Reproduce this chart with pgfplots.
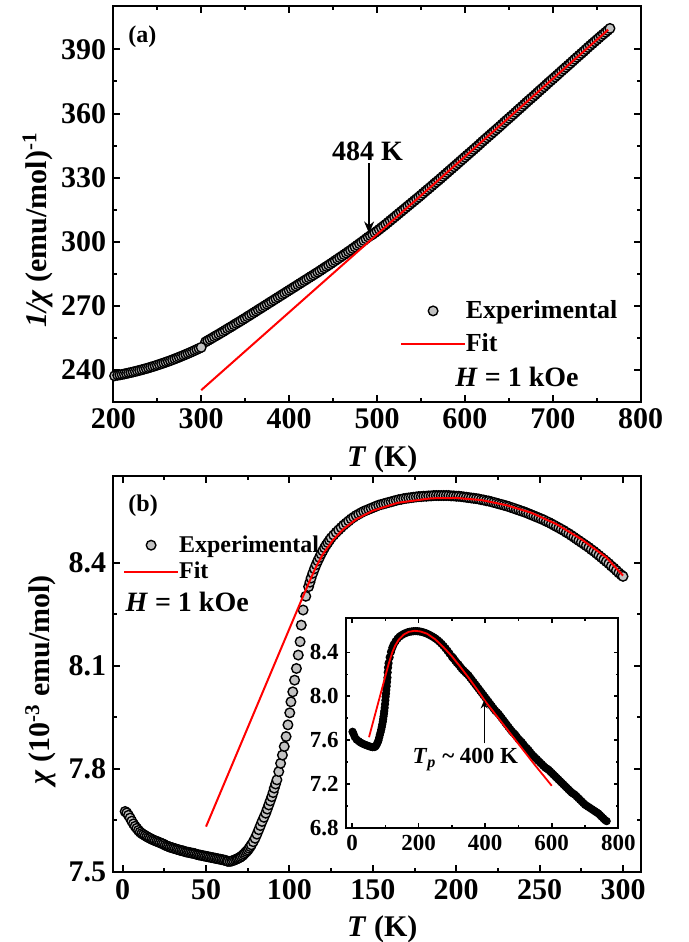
\documentclass[border=0pt]{standalone}
\usepackage{fontspec}
\setmainfont{Liberation Serif}
\usepackage{pgfplots}
\pgfplotsset{compat=1.18}
\usetikzlibrary{arrows.meta}
\definecolor{mk}{RGB}{194,194,194}

\pgfplotsset{
  panel/.style={
    scale only axis, width=263.7pt, height=197.85pt,
    clip=false, clip marker paths=true,
    axis line style={line width=1.1pt},
    every tick/.style={black, line width=1pt},
    major tick length=3.5pt, minor tick length=2pt,
    tick align=inside, minor tick num=1,
    tick label style={font=\fontsize{15}{15}\selectfont\bfseries},
    /pgf/number format/assume math mode=true,
    label style={font=\fontsize{15}{15}\selectfont\bfseries},
    xlabel style={at={(axis description cs:0.51,-0.164)}, anchor=base, inner sep=0pt},
    ylabel style={anchor=base, inner sep=0pt},
    legend cell align=left,
  },
  expt/.style={only marks, mark=*, mark size=2.4pt,
    mark options={fill=mk, draw=black, line width=0.7pt}},
  fitline/.style={red, line width=1pt, no marks},
}

\begin{document}
\begin{tikzpicture}
\useasboundingbox (0,0) rectangle (344.5pt,471pt);

% (a) inverse susceptibility
\begin{axis}[panel,
  at={(56.65pt,270.15pt)}, anchor=south west,
  xmin=200, xmax=800, ymin=225.2, ymax=410.3,
  xtick={200,300,...,800}, ytick={240,270,...,390},
  xlabel={\textit{T} (K)},
  ylabel={\textit{1/χ} (emu/mol)\textsuperscript{-1}},
  ylabel style={at={(axis description cs:-0.126,0.434)}},
  legend image code/.code={\draw[mark repeat=2,mark phase=2,#1] plot coordinates {(0pt,0pt) (15.85pt,0pt) (31.7pt,0pt)};},
  legend style={at={(axis description cs:0.5436,0.257)}, anchor=north west,
    draw=none, fill=none, inner sep=0pt, row sep=5.8pt,
    font=\fontsize{13}{13}\selectfont\bfseries, nodes={inner sep=0pt},
    /tikz/every even column/.append style={column sep=4.2pt}},
]
\addplot[expt] coordinates {
(305,253.2)(307.5,253.8)(310,254.4)(312.5,255.0)(315,255.6)(317.5,256.2)(320,256.8)(322.5,257.4)(325,258.0)(327.5,258.65)
(330,259.3)(332.5,259.9)(335,260.5)(337.5,261.15)(340,261.8)(342.5,262.4)(345,263.0)(347.5,263.65)(350,264.3)(352.5,264.95)
(355,265.6)(357.5,266.25)(360,266.9)(362.5,267.55)(365,268.2)(367.5,268.85)(370,269.5)(372.5,270.15)(375,270.8)(377.5,271.45)
(380,272.1)(382.5,272.75)(385,273.4)(387.5,274.05)(390,274.7)(392.5,275.35)(395,276.0)(397.5,276.65)(400,277.3)(402.5,277.95)
(405,278.6)(407.5,279.25)(410,279.9)(412.5,280.55)(415,281.2)(417.5,281.85)(420,282.5)(422.5,283.15)(425,283.8)(427.5,284.45)
(430,285.1)(432.5,285.75)(435,286.4)(437.5,287.1)(440,287.8)(442.5,288.45)(445,289.1)(447.5,289.8)(450,290.5)(452.5,291.2)
(455,291.9)(457.5,292.6)(460,293.3)(462.5,294.0)(465,294.7)(467.5,295.4)(470,296.1)(472.5,296.85)(475,297.6)(477.5,298.35)
(480,299.1)(482.5,299.85)(485,300.6)(487.5,301.4)(490,302.2)(492.5,302.85)(495,303.5)(497.5,304.25)(500,305.0)(502.5,305.8)
(505,306.6)(507.5,307.4)(510,308.2)(512.5,309.05)(515,309.9)(517.5,310.75)(520,311.6)(522.5,312.45)(525,313.3)(527.5,314.15)
(530,315.0)(532.5,315.85)(535,316.7)(537.5,317.55)(540,318.4)(542.5,319.25)(545,320.1)(547.5,320.95)(550,321.8)(552.5,322.7)
(555,323.6)(557.5,324.45)(560,325.3)(562.5,326.2)(565,327.1)(567.5,327.95)(570,328.8)(572.5,329.7)(575,330.6)(577.5,331.5)
(580,332.4)(582.5,333.3)(585,334.2)(587.5,335.1)(590,336.0)(592.5,336.9)(595,337.8)(597.5,338.7)(600,339.6)(602.5,340.5)
(605,341.4)(607.5,342.3)(610,343.2)(612.5,344.1)(615,345.0)(617.5,345.95)(620,346.9)(622.5,347.8)(625,348.7)(627.5,349.6)
(630,350.5)(632.5,351.4)(635,352.3)(637.5,353.2)(640,354.1)(642.5,355.05)(645,356.0)(647.5,356.9)(650,357.8)(652.5,358.7)
(655,359.6)(657.5,360.55)(660,361.5)(662.5,362.4)(665,363.3)(667.5,364.25)(670,365.2)(672.5,366.1)(675,367.0)(677.5,367.9)
(680,368.8)(682.5,369.75)(685,370.7)(687.5,371.6)(690,372.5)(692.5,373.45)(695,374.4)(697.5,375.3)(700,376.2)(702.5,377.1)
(705,378.0)(707.5,378.95)(710,379.9)(712.5,380.8)(715,381.7)(717.5,382.6)(720,383.5)(722.5,384.45)(725,385.4)(727.5,386.3)
(730,387.2)(732.5,388.1)(735,389.0)(737.5,389.95)(740,390.9)(742.5,391.8)(745,392.7)(747.5,393.6)(750,394.5)(752.5,395.4)
(755,396.3)(757.5,397.15)(760,398.0)(762.5,398.9)(765,399.8)};
\addlegendentry{Experimental}
\addplot[expt, forget plot] coordinates {
(201.5,237.3)(205,237.57)(207.5,237.76)(210,237.96)(212.5,238.17)(215,238.39)(217.5,238.62)(220,238.86)(222.5,239.1)
(225,239.35)(227.5,239.61)(230,239.88)(232.5,240.15)(235,240.43)(237.5,240.72)(240,241.02)(242.5,241.33)(245,241.65)
(247.5,241.97)(250,242.3)(252.5,242.64)(255,242.99)(257.5,243.34)(260,243.7)(262.5,244.07)(265,244.45)(267.5,244.84)
(270,245.24)(272.5,245.64)(275,246.05)(277.5,246.47)(280,246.9)(282.5,247.33)(285,247.77)(287.5,248.22)(290,248.68)
(292.5,249.15)(295,249.63)(297.5,250.11)(300,250.6)};
\addplot[fitline] coordinates {(300,230.6) (763,399.2)};
\addlegendentry{Fit}
\node[anchor=base west, inner sep=0pt, font=\fontsize{12}{12}\selectfont\bfseries]
  at (axis description cs:0.028,0.907) {(a)};
\node[anchor=base, inner sep=0pt, font=\fontsize{14}{14}\selectfont\bfseries]
  at (axis cs:489.3,338.2) {484 K};
\draw[line width=0.6pt, -{Stealth[length=6pt,width=5pt]}] (axis cs:491,336.7) -- (axis cs:491,303.9);
\node[anchor=base west, inner sep=0pt, font=\fontsize{14}{14}\selectfont\bfseries]
  at (axis description cs:0.648,0.038) {\textit{H} = 1 kOe};
\end{axis}

% (b) susceptibility
\begin{axis}[panel,
  at={(56.65pt,35pt)}, anchor=south west,
  xmin=-5.6, xmax=310.6, ymin=7.5, ymax=8.651,
  xtick={0,50,...,300}, ytick={7.5,7.8,8.1,8.4},
  yticklabel style={/pgf/number format/.cd, fixed, fixed zerofill, precision=1},
  xlabel={\textit{T} (K)},
  ylabel={\textit{χ} (10\textsuperscript{-3} emu/mol)},
  ylabel style={at={(axis description cs:-0.121,0.485)}},
  legend image code/.code={\draw[mark repeat=2,mark phase=2,#1] plot coordinates {(0pt,0pt) (13.5pt,0pt) (27pt,0pt)};},
  legend style={at={(axis description cs:0.0178,0.8517)}, anchor=north west,
    draw=none, fill=none, inner sep=0pt, row sep=3.4pt,
    font=\fontsize{12}{12}\selectfont\bfseries, nodes={inner sep=0pt},
    /tikz/every even column/.append style={column sep=3pt}},
]
\addplot[expt] coordinates {
(1.5,7.676)(2.5,7.672)(3.5,7.665)(4.5,7.657)(5.5,7.648)(6.5,7.640)(7.5,7.633)(8.5,7.627)(9.5,7.621)(10.5,7.616)
(11.5,7.612)(12.5,7.609)(13.5,7.606)(14.5,7.603)(15.5,7.600)(16.5,7.598)(17.5,7.595)(18.5,7.593)(19.5,7.591)(20.5,7.589)
(21.5,7.587)(22.5,7.585)(23.5,7.583)(24.5,7.581)(25.5,7.578)(26.5,7.576)(27.5,7.574)(28.5,7.572)(29.5,7.571)(30.5,7.569)
(31.5,7.568)(32.5,7.566)(33.5,7.565)(34.5,7.563)(35.5,7.562)(36.5,7.561)(37.5,7.559)(38.5,7.558)(39.5,7.557)(40.5,7.556)
(41.5,7.555)(42.5,7.554)(43.5,7.553)(44.5,7.551)(45.5,7.550)(46.5,7.549)(47.5,7.548)(48.5,7.547)(49.5,7.546)(50.5,7.545)
(51.5,7.544)(52.5,7.543)(53.5,7.542)(54.5,7.541)(55.5,7.540)(56.5,7.539)(57.5,7.538)(58.5,7.537)(59.5,7.536)(60.5,7.535)
(61.5,7.534)(62.5,7.532)(63.2,7.531)(64.4,7.531)(65.5,7.532)(66.5,7.534)(67.6,7.536)(68.5,7.538)(69.3,7.540)(70.2,7.542)
(71.0,7.545)(71.9,7.548)(72.7,7.552)(73.5,7.556)(74.3,7.560)(75.1,7.564)(75.8,7.569)(76.5,7.574)(77.2,7.579)(78.3,7.588)
(79.4,7.598)(80.5,7.610)(81.6,7.623)(82.6,7.635)(83.6,7.647)(84.7,7.659)(85.8,7.671)(86.7,7.683)(87.6,7.695)(88.5,7.707)
(89.4,7.719)(90.2,7.731)(90.9,7.744)(91.7,7.756)(92.5,7.768)(93.6,7.792)(94.7,7.816)(95.8,7.840)(96.9,7.865)(98.0,7.894)
(99.1,7.928)(100.2,7.963)(100.9,7.995)(102.0,8.024)(103.1,8.058)(104.2,8.092)(105.3,8.131)(106.4,8.170)(107.1,8.218)(108.2,8.262)
(109.8,8.302)(111.5,8.330)(112.3,8.343)(113,8.355)(114,8.369)(115,8.382)(116,8.394)(117,8.405)(118,8.415)(119,8.425)
(120,8.434)(121,8.443)(122,8.451)(123,8.458)(124,8.465)(125,8.472)(126.5,8.480)(128,8.488)(129.5,8.495)(131,8.502)
(132.5,8.509)(134,8.515)(135.5,8.521)(137,8.527)(138.5,8.532)(140,8.537)(141.5,8.541)(143,8.545)(144.5,8.549)(146,8.552)
(147.5,8.555)(149,8.558)(150.5,8.561)(152,8.564)(153.5,8.567)(155,8.569)(156.5,8.571)(158,8.573)(159.5,8.575)(161,8.577)
(162.5,8.579)(164,8.581)(165.5,8.583)(167,8.584)(168.5,8.586)(170,8.587)(171.5,8.588)(173,8.589)(174.5,8.590)(176,8.591)
(177.5,8.592)(179,8.592)(180.5,8.593)(182,8.593)(183.5,8.594)(185,8.594)(186.5,8.595)(188,8.595)(189.5,8.595)(191,8.595)
(192.5,8.595)(194,8.595)(195.5,8.595)(197,8.594)(198.5,8.594)(200,8.593)(201.5,8.593)(203,8.592)(204.5,8.591)(206,8.590)
(207.5,8.589)(209,8.588)(210.5,8.587)(212,8.586)(213.5,8.585)(215,8.583)(216.5,8.582)(218,8.580)(219.5,8.579)(221,8.577)
(222.5,8.575)(224,8.573)(225.5,8.571)(227,8.569)(228.5,8.567)(230,8.565)(231.5,8.563)(233,8.560)(234.5,8.558)(236,8.555)
(237.5,8.553)(239,8.550)(240.5,8.548)(242,8.545)(243.5,8.542)(245,8.539)(246.5,8.536)(248,8.533)(249.5,8.530)(251,8.527)
(252.5,8.524)(254,8.520)(255.5,8.517)(257,8.513)(258.5,8.509)(260,8.505)(261.5,8.501)(263,8.497)(264.5,8.493)(266,8.488)
(267.5,8.484)(269,8.479)(270.5,8.474)(272,8.469)(273.5,8.464)(275,8.459)(276.5,8.454)(278,8.449)(279.5,8.444)(281,8.438)
(282.5,8.433)(284,8.427)(285.5,8.421)(287,8.415)(288.5,8.409)(290,8.403)(291.5,8.397)(293,8.390)(294.5,8.384)(296,8.377)
(297.5,8.370)(299,8.364)(300,8.360)};
\addlegendentry{Experimental}
\addplot[fitline] coordinates {
(50,7.632)(108,8.300)(112,8.345)(116,8.388)(120,8.424)(126,8.465)(132,8.496)(140,8.526)(150,8.551)(165,8.574)
(185,8.587)(200,8.588)(215,8.582)(230,8.567)(245,8.545)(260,8.512)(275,8.468)(290,8.415)(300,8.362)};
\addlegendentry{Fit}
\node[anchor=base west, inner sep=0pt, font=\fontsize{12}{12}\selectfont\bfseries]
  at (axis description cs:0.028,0.91) {(b)};
\node[anchor=base west, inner sep=0pt, font=\fontsize{14}{14}\selectfont\bfseries]
  at (axis description cs:0.0224,0.658) {\textit{H} = 1 kOe};
\end{axis}

% inset: full range
\begin{axis}[
  at={(172.85pt,57.15pt)}, anchor=south west,
  scale only axis, width=136.3pt, height=104.7pt,
  axis background/.style={fill=white},
  clip=false, clip marker paths=true,
  axis line style={line width=0.9pt},
  every tick/.style={black, line width=0.8pt},
  major tick length=2.2pt, minor tick length=1.3pt,
  tick align=inside, minor tick num=1,
  tick label style={font=\fontsize{11.5}{11.5}\selectfont\bfseries},
  /pgf/number format/assume math mode=true,
  xmin=-19, xmax=800, ymin=6.8, ymax=8.712,
  xtick={0,200,...,800}, ytick={6.8,7.2,7.6,8.0,8.4},
  yticklabel style={/pgf/number format/.cd, fixed, fixed zerofill, precision=1},
]
\addplot[expt, mark size=1.8pt, mark options={line width=0.5pt}] coordinates {
(302,8.355)(305,8.345)(310,8.325)(315,8.305)(320,8.29)(325,8.27)(330,8.25)(335,8.235)(340,8.22)(345,8.205)
(350,8.19)(355,8.17)(360,8.15)(365,8.13)(370,8.11)(375,8.09)(380,8.07)(385,8.05)(390,8.03)(395,8.01)
(400,7.99)(405,7.97)(410,7.95)(415,7.93)(420,7.91)(425,7.89)(430,7.87)(435,7.855)(440,7.84)(445,7.82)
(450,7.80)(455,7.78)(460,7.76)(465,7.74)(470,7.72)(475,7.70)(480,7.68)(485,7.665)(490,7.65)(495,7.63)
(500,7.61)(505,7.595)(510,7.58)(515,7.56)(520,7.54)(525,7.525)(530,7.51)(535,7.49)(540,7.47)(545,7.455)
(550,7.44)(555,7.425)(560,7.41)(565,7.395)(570,7.38)(575,7.365)(580,7.35)(585,7.34)(590,7.33)(595,7.315)
(600,7.30)(605,7.285)(610,7.27)(615,7.255)(620,7.24)(625,7.225)(630,7.21)(635,7.195)(640,7.18)(645,7.165)
(650,7.15)(655,7.135)(660,7.12)(665,7.11)(670,7.10)(675,7.085)(680,7.07)(685,7.055)(690,7.04)(695,7.025)
(700,7.01)(705,7.00)(710,6.99)(715,6.98)(720,6.97)(725,6.96)(730,6.95)(735,6.94)(740,6.93)(745,6.915)
(750,6.90)(755,6.885)(760,6.87)(765,6.86)};
\addplot[expt, mark size=1.8pt, mark options={line width=0.5pt}] coordinates {
(1.5,7.676)(4.5,7.657)(8.5,7.627)(14,7.604)(20,7.590)(26,7.577)(32,7.567)(38,7.559)(44,7.552)(50,7.545)
(56,7.539)(62,7.535)(67.6,7.536)(71.0,7.545)(74.3,7.560)(77.2,7.579)(79.4,7.598)(81.6,7.623)(83.6,7.647)(85.8,7.671)
(87.6,7.695)(89.4,7.719)(90.9,7.744)(92.5,7.768)(93.6,7.792)(94.7,7.816)(95.8,7.840)(96.9,7.865)(98.0,7.894)(99.1,7.928)
(100.2,7.963)(100.9,7.995)(102.0,8.024)(103.1,8.058)(104.2,8.092)(105.3,8.131)(106.4,8.170)(107.1,8.218)(108.2,8.262)(109.8,8.302)
(113,8.355)(117,8.405)(121,8.443)(125,8.472)(131,8.502)(137,8.527)(143,8.545)(149,8.558)(155,8.569)(161,8.577)
(167,8.584)(173,8.589)(179,8.592)(185,8.594)(191,8.595)(197,8.594)(203,8.592)(209,8.588)(215,8.583)(221,8.577)
(227,8.569)(233,8.560)(239,8.550)(245,8.539)(251,8.527)(257,8.513)(263,8.497)(269,8.479)(275,8.459)(281,8.438)
(287,8.415)(293,8.390)(300,8.362)};
\addplot[fitline, line width=0.9pt] coordinates {
(51,7.626)(109,8.285)(115,8.345)(122,8.41)(130,8.465)(140,8.515)(155,8.563)(170,8.588)(188,8.598)(205,8.592)
(225,8.572)(250,8.52)(275,8.447)(300,8.365)(325,8.27)(350,8.17)(375,8.065)(400,7.955)(450,7.76)(500,7.565)
(550,7.37)(600,7.183)};
\node[anchor=base west, inner sep=0pt, font=\fontsize{11.5}{11.5}\selectfont\bfseries]
  at (axis cs:181,7.385) {\textit{T}\textsubscript{\textit{p}} \textasciitilde{} 400 K};
\draw[line width=0.6pt, -{Stealth[length=4pt,width=3.5pt]}] (axis cs:397,7.57) -- (axis cs:397,7.962);
\end{axis}
\end{tikzpicture}
\end{document}
